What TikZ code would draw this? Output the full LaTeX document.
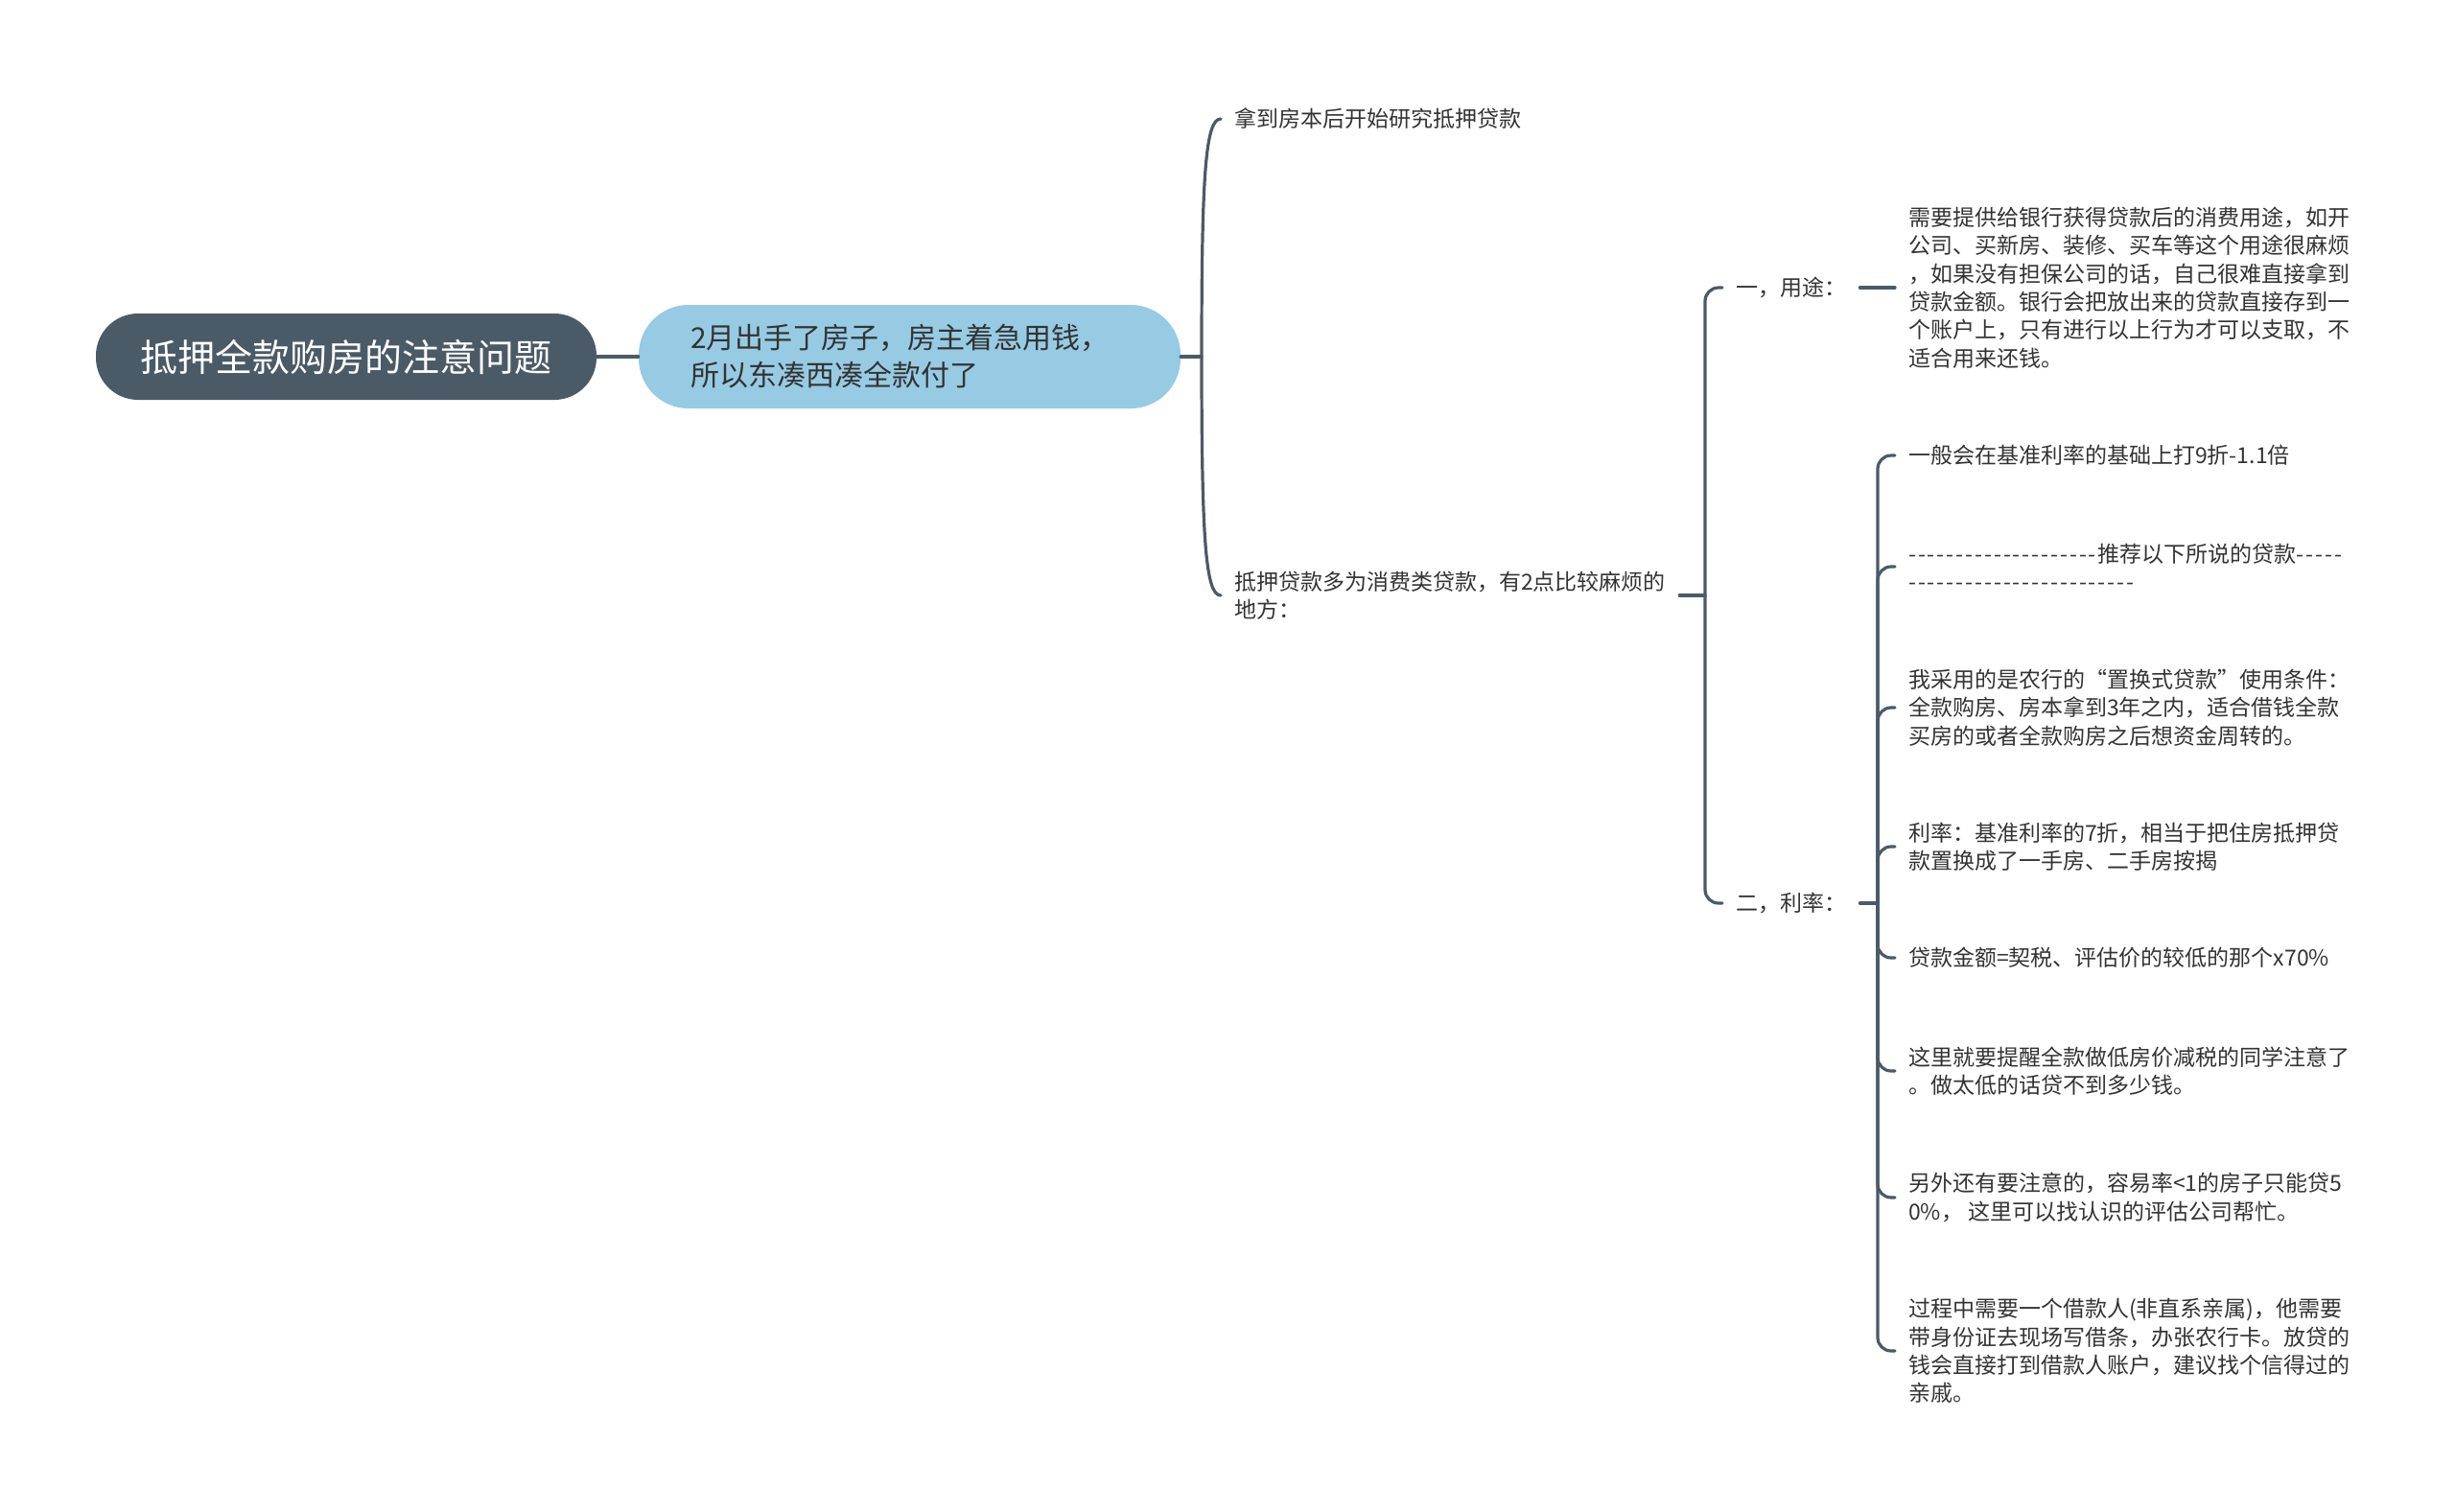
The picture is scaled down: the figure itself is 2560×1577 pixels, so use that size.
\documentclass[tikz,border=0pt]{standalone}
\usepackage{fontspec}
\usepackage{tikz}
\usetikzlibrary{positioning}
\newfontfamily\cjk{Noto Sans CJK SC}
\definecolor{slate}{HTML}{4B5A67}
\definecolor{sky}{HTML}{97CBE3}
\definecolor{ink}{HTML}{333333}
\newcommand\hyrow[1]{\foreach\i in {1,...,#1}{-\kern1.9pt}}
\tikzset{branch/.style={draw=slate,line width=3.2pt,line cap=round},rootbox/.style={fill=slate,rounded corners=44pt,minimum width=522pt,minimum height=90pt,text=white,font=\cjk\fontsize{39}{47}\selectfont},topicbox/.style={fill=sky,rounded corners=52pt,minimum height=108pt,text width=457pt,inner xsep=54pt,align=left,text=ink,font=\cjk\fontsize{30}{39}\selectfont},leaf/.style={anchor=west,inner xsep=14pt,inner ysep=2pt,align=left,text=ink,font=\cjk\fontsize{23}{29.4}\selectfont}}

\begin{document}
\begin{tikzpicture}[x=1pt,y=-1pt]
 \useasboundingbox (0,0) rectangle (2560,1577);
 \node[rootbox] (root) at (361,372) {抵押全款购房的注意问题};
 \node[topicbox] (topic) at (948.5,372) {2月出手了房子，房主着急用钱，\\所以东凑西凑全款付了};
 % first level
 \node[leaf] (c1) at (1273,124) {拿到房本后开始研究抵押贷款};
 \node[leaf] (c2) at (1273,621) {抵押贷款多为消费类贷款，有2点比较麻烦的\\地方：};
 % second level
 \node[leaf] (u1) at (1796,300) {一，用途：};
 \node[leaf] (u2) at (1796,942) {二，利率：};
 \node[leaf] (d1) at (1976,300) {需要提供给银行获得贷款后的消费用途，如开\\公司、买新房、装修、买车等这个用途很麻烦\\，如果没有担保公司的话，自己很难直接拿到\\贷款金额。银行会把放出来的贷款直接存到一\\个账户上，只有进行以上行为才可以支取，不\\适合用来还钱。};
 \node[leaf] (e1) at (1976,475) {一般会在基准利率的基础上打9折-1.1倍};
 \node[leaf] (e2) at (1976,591) {\hyrow{20}推荐以下所说的贷款\hyrow{5}\\\hyrow{24}};
 \node[leaf] (e3) at (1976,738) {我采用的是农行的“置换式贷款”使用条件：\\全款购房、房本拿到3年之内，适合借钱全款\\买房的或者全款购房之后想资金周转的。};
 \node[leaf] (e4) at (1976,883) {利率：基准利率的7折，相当于把住房抵押贷\\款置换成了一手房、二手房按揭};
 \node[leaf] (e5) at (1976,999) {贷款金额=契税、评估价的较低的那个x70\%};
 \node[leaf] (e6) at (1976,1117) {这里就要提醒全款做低房价减税的同学注意了\\。做太低的话贷不到多少钱。};
 \node[leaf] (e7) at (1976,1249) {另外还有要注意的，容易率<1的房子只能贷5\\0\%， 这里可以找认识的评估公司帮忙。};
 \node[leaf] (e8) at (1976,1409) {过程中需要一个借款人(非直系亲属)，他需要\\带身份证去现场写借条，办张农行卡。放贷的\\钱会直接打到借款人账户，建议找个信得过的\\亲戚。};
 % connectors
 \coordinate (b1) at (1253,372);
 \coordinate (b2) at (1778,621);
 \coordinate (b3) at (1958,942);
 \draw[branch] (root) -- (topic);
 \draw[branch] (topic.east) -- (b1);
 \draw[branch] (b1) .. controls +(0,-190) and +(-16,0) .. (c1.west);
 \draw[branch] (b1) .. controls +(0,190) and +(-16,0) .. (c2.west);
 \draw[branch] (c2.east) -- (b2);
 \foreach \n in {u1,u2} \draw[branch,rounded corners=14pt] (b2) |- (\n.west);
 \draw[branch] (u1.east) -- (d1.west);
 \draw[branch] (u2.east) -- (b3);
 \foreach \n in {e1,e2,e3,e4,e5,e6,e7,e8} \draw[branch,rounded corners=14pt] (b3) |- (\n.west);
\end{tikzpicture}
\end{document}
